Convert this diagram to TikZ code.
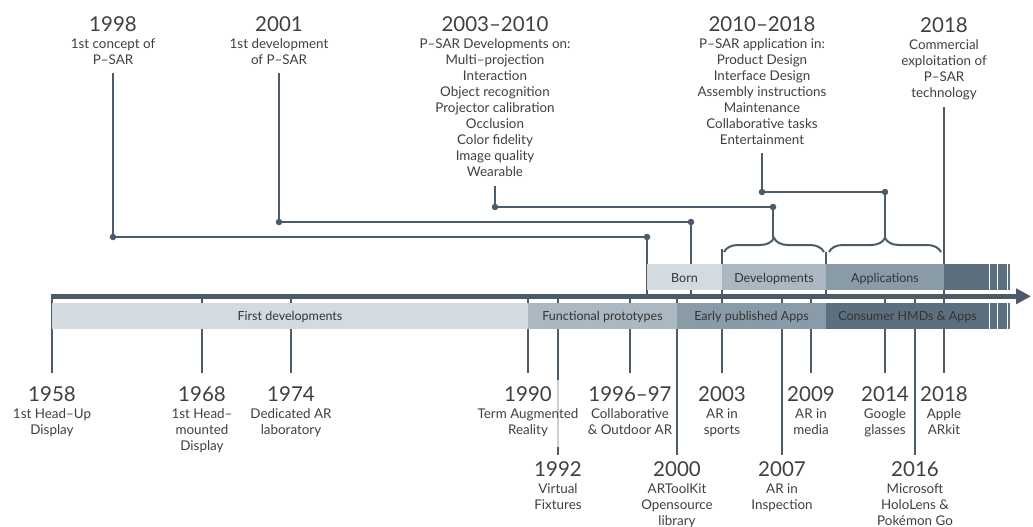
\documentclass[tikz,border=0pt]{standalone}
\usepackage{fontspec}
\setmainfont{Lato}
\usetikzlibrary{arrows.meta,decorations.pathreplacing}
\definecolor{lc}{HTML}{4B5B69}
\definecolor{bA}{HTML}{D3DAE0}
\definecolor{bB}{HTML}{ABB7C1}
\definecolor{bC}{HTML}{8A9BA8}
\definecolor{bD}{HTML}{5C6F7F}
\definecolor{tc}{HTML}{404040}
\definecolor{lightline}{HTML}{C9D1D8}
\newcommand{\tlabel}[5]{%
  \node[yearst,anchor=base] (#1y) at (#2,#3) {#4};
  \node[descst,anchor=north] (#1d) at (#2,#3+5.3) {\strut #5};
}
\begin{document}
\begin{tikzpicture}[x=1pt,y=-1pt,
  yearst/.style={font=\fontsize{20.5}{24}\selectfont,text=tc,inner sep=0,outer sep=0},
  descst/.style={font=\fontsize{13.4}{16}\selectfont,text=tc,align=center,inner sep=0,outer sep=0},
  bandtxt/.style={font=\fontsize{12.5}{14}\selectfont,text=black!80,inner sep=0,anchor=base},
  conn/.style={draw=lc,line width=2.4pt},
  dotst/.style={circle,fill=lc,inner sep=0,minimum size=6.5pt},
  bracest/.style={draw=lc,line width=2pt,decorate,decoration={brace,amplitude=14pt}},
  stripe/.style={draw=white,line width=1.2pt}]
\useasboundingbox (0,0) rectangle (1033,527);
\fill[white] (0,0) rectangle (1033,527);

% ---- ticks below the axis
\foreach \n/\x/\e in {1958/52/373,1968/202/373,1974/291/373,1990/528/373,
  1996/630/373,2009/811/373,2014/885/373,2000/677/455,2007/782/455,2016/915/455}{
  \coordinate (a\n) at (\x,296);
  \coordinate (e\n) at (\x,\e);
  \draw[conn] (a\n) -- (e\n);
}
% 1992 tick, lighter where it crosses the 1990 label
\coordinate (a1992) at (558,296);
\coordinate (m1992) at (558,380);
\coordinate (n1992) at (558,447);
\coordinate (e1992) at (558,455);
\draw[conn] (a1992) -- (m1992);
\draw[conn,draw=lightline] (m1992) -- (n1992);
\draw[conn] (n1992) -- (e1992);
% 2003 tick, starting at the brace end
\coordinate (a2003) at (722,249);
\coordinate (e2003) at (722,373);
\draw[conn] (a2003) -- (e2003);
% separator between developments and applications
\coordinate (s1) at (826,252);
\coordinate (s2) at (826,296);
\draw[conn] (s1) -- (s2);
% 2018 line
\coordinate (a2018) at (944,107);
\coordinate (e2018) at (944,373);
\draw[conn] (a2018) -- (e2018);

% ---- upper connectors
\coordinate (c1a) at (113,73);  \coordinate (c1b) at (113,237);
\coordinate (c1c) at (647,237); \coordinate (c1d) at (647,296);
\draw[conn] (c1a) -- (c1b) -- (c1c) -- (c1d);
\coordinate (c2a) at (279,73);  \coordinate (c2b) at (279,222);
\coordinate (c2c) at (691,222); \coordinate (c2d) at (691,296);
\draw[conn] (c2a) -- (c2b) -- (c2c) -- (c2d);
\coordinate (c3a) at (495,186); \coordinate (c3b) at (495,207);
\coordinate (c3c) at (773,207); \coordinate (c3d) at (773,238);
\draw[conn] (c3a) -- (c3b) -- (c3c) -- (c3d);
\coordinate (c4a) at (762,153); \coordinate (c4b) at (762,192);
\coordinate (c4c) at (885,192); \coordinate (c4d) at (885,238);
\draw[conn] (c4a) -- (c4b) -- (c4c) -- (c4d);
\foreach \c in {c1b,c1c,c2b,c2c,c3b,c3c,c4b,c4c}{
  \node[dotst] (dot\c) at (\c) {};
}

% ---- braces
\coordinate (br1a) at (724,252); \coordinate (br1b) at (824,252);
\coordinate (br2a) at (829,252); \coordinate (br2b) at (941,252);
\draw[bracest] (br1a) -- (br1b);
\draw[bracest] (br2a) -- (br2b);

% ---- bands
\fill[bA] (647,264) rectangle (722,290);
\fill[bB] (722,264) rectangle (826,290);
\fill[bC] (826,264) rectangle (944,290);
\fill[bD] (944,264) rectangle (1010,290);
\fill[bA] (52,303) rectangle (528,328.5);
\fill[bB] (528,303) rectangle (677,328.5);
\fill[bC] (677,303) rectangle (826,328.5);
\fill[bD] (826,303) rectangle (1010,328.5);
\foreach \x in {989.5,997.6,1007.5}{
  \draw[stripe] (\x,264) -- (\x,290);
  \draw[stripe] (\x,303) -- (\x,328.5);
}
\node[bandtxt] (bBorn) at (684.5,282) {Born};
\node[bandtxt] (bDev) at (774,282) {Developments};
\node[bandtxt] (bApp) at (885,282) {Applications};
\node[bandtxt] (bFirst) at (290,320) {First developments};
\node[bandtxt] (bFunc) at (602.5,320) {Functional prototypes};
\node[bandtxt] (bEarly) at (751.5,320) {Early published Apps};
\node[bandtxt] (bCons) at (907.5,320) {Consumer HMDs \& Apps};

% ---- axis
\coordinate (ax0) at (52,296.3);
\coordinate (ax1) at (1031,296.3);
\draw[lc,line width=4.6pt,-{Triangle[length=15pt,width=15pt]}] (ax0) -- (ax1);
\coordinate (t0) at (52,294);
\coordinate (t1) at (52,303);
\draw[conn] (t0) -- (t1);

% ---- top labels
\tlabel{t1998}{113}{31.7}{1998}{1st concept of\\P–SAR}
\tlabel{t2001}{279}{31.7}{2001}{1st development\\of P–SAR}
\tlabel{t2003}{495}{31.7}{2003–2010}{P–SAR Developments on:\\Multi–projection\\Interaction\\Object recognition\\Projector calibration\\Occlusion\\Color fidelity\\Image quality\\Wearable}
\tlabel{t2010}{762}{31.7}{2010–2018}{P–SAR application in:\\Product Design\\Interface Design\\Assembly instructions\\Maintenance\\Collaborative tasks\\Entertainment}
\tlabel{t2018}{944}{33}{2018}{Commercial\\exploitation of\\P–SAR\\technology}

% ---- bottom labels, first row
\tlabel{l1958}{52}{401.7}{1958}{1st Head–Up\\Display}
\tlabel{l1968}{202}{401.7}{1968}{1st Head–\\mounted\\Display}
\tlabel{l1974}{291}{401.7}{1974}{Dedicated AR\\laboratory}
\tlabel{l1990}{528}{401.7}{1990}{Term Augmented\\Reality}
\tlabel{l1996}{630}{401.7}{1996–97}{Collaborative\\\& Outdoor AR}
\tlabel{l2003}{722}{401.7}{2003}{AR in\\sports}
\tlabel{l2009}{811}{401.7}{2009}{AR in\\media}
\tlabel{l2014}{885}{401.7}{2014}{Google\\glasses}
\tlabel{l2018}{944}{401.7}{2018}{Apple\\ARkit}
% ---- bottom labels, second row
\tlabel{l1992}{558}{476.7}{1992}{Virtual\\Fixtures}
\tlabel{l2000}{677}{476.7}{2000}{ARToolKit\\Opensource\\library}
\tlabel{l2007}{782}{476.7}{2007}{AR in\\Inspection}
\tlabel{l2016}{915}{476.7}{2016}{Microsoft\\HoloLens \&\\Pokémon Go}
\end{tikzpicture}
\end{document}
